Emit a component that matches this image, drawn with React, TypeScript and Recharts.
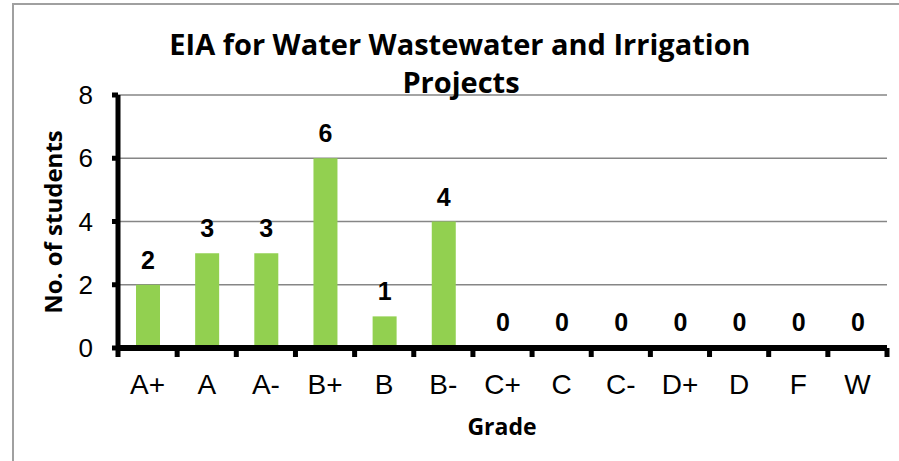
import React from 'react';
import { BarChart, Bar, XAxis, YAxis, CartesianGrid, LabelList } from 'recharts';

const grades = ['A+', 'A', 'A-', 'B+', 'B', 'B-', 'C+', 'C', 'C-', 'D+', 'D', 'F', 'W'];
const students = [2, 3, 3, 6, 1, 4, 0, 0, 0, 0, 0, 0, 0];
const yTicks = [0, 2, 4, 6, 8];

const W = 899;
const H = 461;
const LEFT = 118;
const RIGHT = 12;
const TOP = 95;
const BOTTOM = 113;
const BAND = (W - LEFT - RIGHT) / grades.length;

const data = grades.map((g, i) => ({ grade: g, value: students[i] }));

const XTick = (props: any) => {
  const { x, y, payload, index } = props;
  const half = BAND / 2;
  const last = index === grades.length - 1;
  return (
    <g>
      <rect x={x - half - 2.5} y={y} width={5} height={9} fill="#000" />
      {last && <rect x={x + half - 2.5} y={y} width={5} height={9} fill="#000" />}
      <text
        x={x}
        y={y + 46}
        textAnchor="middle"
        fontFamily="'Liberation Sans', Arial, sans-serif"
        fontSize={28}
        fill="#000"
      >
        {payload.value}
      </text>
    </g>
  );
};

const App: React.FC = () => {
  return (
    <div
      style={{
        position: 'absolute',
        left: 0,
        top: 0,
        width: W,
        height: H,
        overflow: 'hidden',
        background: '#fff',
      }}
    >
      <div
        style={{
          position: 'absolute',
          left: 12,
          top: 3,
          width: 1000,
          height: 600,
          border: '2px solid #a0a0a0',
        }}
      />
      <div style={{ position: 'absolute', left: 0, top: 0 }}>
        <BarChart
          width={W}
          height={H}
          data={data}
          margin={{ top: TOP, right: RIGHT, left: 0, bottom: 0 }}
        >
          <CartesianGrid vertical={false} stroke="#868686" strokeWidth={1.5} />
          <Bar dataKey="value" fill="#92D050" barSize={24} minPointSize={1} isAnimationActive={false}>
            <LabelList
              dataKey="value"
              position="top"
              offset={16}
              fill="#000"
              fontSize={25}
              fontWeight="bold"
              fontFamily="'Liberation Sans', Arial, sans-serif"
            />
          </Bar>
          <XAxis
            dataKey="grade"
            height={BOTTOM}
            axisLine={{ stroke: '#000', strokeWidth: 6 }}
            tickLine={false}
            tickSize={0}
            tickMargin={0}
            interval={0}
            tick={<XTick />}
          />
          <YAxis
            width={LEFT}
            domain={[0, 8]}
            ticks={yTicks}
            axisLine={{ stroke: '#000', strokeWidth: 5 }}
            tickLine={{ stroke: '#000', strokeWidth: 5 }}
            tickSize={6}
            tickMargin={19}
            tick={{ fill: '#000', fontSize: 26, fontFamily: "'Liberation Sans', Arial, sans-serif" }}
          />
        </BarChart>
      </div>
      <svg
        width={W}
        height={H}
        style={{ position: 'absolute', left: 0, top: 0, pointerEvents: 'none' }}
        fontFamily="'Open Sans', sans-serif"
        fontWeight="bold"
        fill="#000"
      >
        <text x={460} y={55} textAnchor="middle" fontSize={29}>
          EIA for Water Wastewater and Irrigation
        </text>
        <text x={461} y={93} textAnchor="middle" fontSize={29}>
          Projects
        </text>
        <text
          x={52}
          y={222}
          textAnchor="middle"
          dominantBaseline="central"
          fontSize={24}
          transform="rotate(-90 52 222)"
        >
          No. of students
        </text>
        <text x={502} y={435} textAnchor="middle" fontSize={23}>
          Grade
        </text>
      </svg>
    </div>
  );
};

export default App;
